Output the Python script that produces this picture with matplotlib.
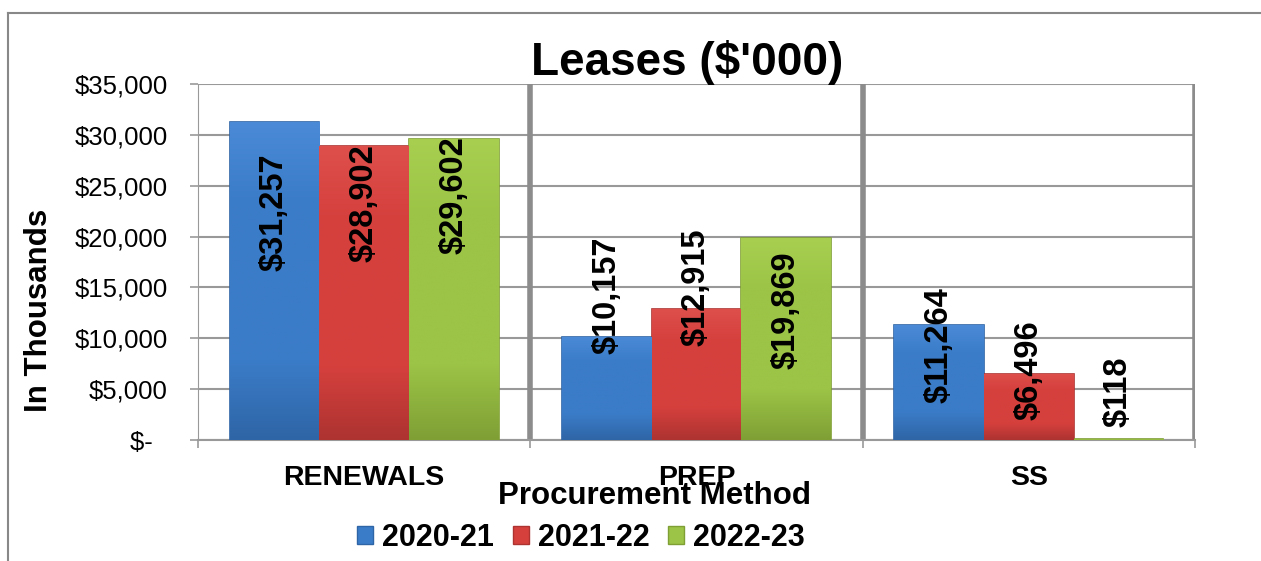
import matplotlib
matplotlib.use("Agg")
import matplotlib.pyplot as plt
import numpy as np
from matplotlib.colors import LinearSegmentedColormap
from matplotlib.lines import Line2D
from matplotlib.patches import Patch

categories = ["RENEWALS", "PREP", "SS"]
years = ["2020-21", "2021-22", "2022-23"]
leases_2020_21 = [31257, 10157, 11264]
leases_2021_22 = [28902, 12915, 6496]
leases_2022_23 = [29602, 19869, 118]
y_ticks = [0, 5000, 10000, 15000, 20000, 25000, 30000, 35000]

# value label centres (data units)
label_y_2020_21 = [22400, 14250, 9350]
label_y_2021_22 = [23300, 15050, 6900]
label_y_2022_23 = [24100, 12800, 4700]

# (top, middle, bottom) shades per series
shades = [
    ("#4a8ad6", "#3b7cc8", "#2e65a6"),
    ("#de4f4b", "#d5403d", "#ad3331"),
    ("#a8cf50", "#9cc446", "#7f9f35"),
]


def money(v):
    if v == 0:
        return "$-  "
    return f"${v:,.0f}"


def main():
    plt.rcParams['font.family'] = ['Liberation Sans', 'DejaVu Sans']

    W, H = 1261, 561
    fig = plt.figure(figsize=(W / 100, H / 100), dpi=100)
    ax = fig.add_axes([198 / W, 1 - 440 / H, (1195 - 198) / W, 356 / H])

    x = np.arange(len(categories))
    width = 0.27
    series = [leases_2020_21, leases_2021_22, leases_2022_23]
    label_pos = [label_y_2020_21, label_y_2021_22, label_y_2022_23]

    for i, (vals, (top, mid, bot)) in enumerate(zip(series, shades)):
        bars = ax.bar(x + (i - 1) * width, vals, width, color=mid,
                      edgecolor=bot, linewidth=1.2, zorder=3)
        cmap = LinearSegmentedColormap.from_list(f"s{i}", [bot, mid, mid, mid, top])
        grad = np.linspace(0, 1, 256).reshape(-1, 1)
        for b in bars:
            x0, h = b.get_x(), b.get_height()
            im = ax.imshow(grad, cmap=cmap, aspect='auto', origin='lower',
                           extent=(x0, x0 + b.get_width(), 0, max(h, 1)),
                           zorder=3.5)
            im.set_clip_path(b)
        for xi, v, ly in zip(x + (i - 1) * width, vals, label_pos[i]):
            ax.text(xi, ly, money(v), rotation=90, ha='center', va='center',
                    fontsize=23.5, fontweight='bold', color='black', zorder=5)

    ax.set_xlim(-0.5, 2.5)
    ax.set_ylim(0, 35000)
    ax.set_yticks(y_ticks)
    ax.set_yticklabels([money(v) for v in y_ticks], fontsize=18.5)
    ax.set_xticks(x)
    ax.set_xticklabels(categories, fontsize=20.5, fontweight='bold')
    ax.set_xticks([-0.5, 0.5, 1.5, 2.5], minor=True)
    ax.tick_params(axis='x', which='major', length=0, pad=18)
    ax.tick_params(axis='x', which='minor', length=6, width=1.2, color='#999999')
    ax.tick_params(axis='y', length=6, width=1.2, color='#999999', pad=16)

    ax.grid(axis='y', color='#999999', linewidth=1.5, zorder=1)
    ax.set_axisbelow(True)
    for s in ['top', 'right']:
        ax.spines[s].set_visible(False)
    ax.spines['left'].set_color('#999999')
    ax.spines['bottom'].set_color('#999999')
    ax.spines['bottom'].set_linewidth(1.5)
    for sep in [0.5, 1.5, 2.5]:
        ax.axvline(sep, color='#8c8c8c', linewidth=4, zorder=2)

    fig.text(687 / W, 1 - 75 / H, "Leases ($'000)", ha='center', va='baseline',
             fontsize=33, fontweight='bold')
    fig.text(39 / W, 1 - 310 / H, "In Thousands", rotation=90, ha='center',
             va='center', fontsize=22.5, fontweight='bold')
    fig.text(655 / W, 1 - 496 / H, "Procurement Method", ha='center',
             va='center', fontsize=22.5, fontweight='bold')

    handles = [Patch(facecolor=s[1], edgecolor=s[2]) for s in shades]
    fig.legend(handles, years, loc='center', bbox_to_anchor=(581 / W, 1 - 538 / H),
               ncol=3, frameon=False, prop={'size': 22, 'weight': 'bold'},
               handlelength=0.52, handleheight=0.52, handletextpad=0.3,
               columnspacing=0.6, borderpad=0)

    # outer chart frame
    fig.add_artist(Line2D([8 / W, 8 / W], [0, 1 - 13 / H], color='#888888',
                          linewidth=1.5, transform=fig.transFigure))
    fig.add_artist(Line2D([8 / W, 1], [1 - 13 / H, 1 - 13 / H], color='#888888',
                          linewidth=1.5, transform=fig.transFigure))

    fig.savefig("out.png", dpi=100)


if __name__ == "__main__":
    main()
